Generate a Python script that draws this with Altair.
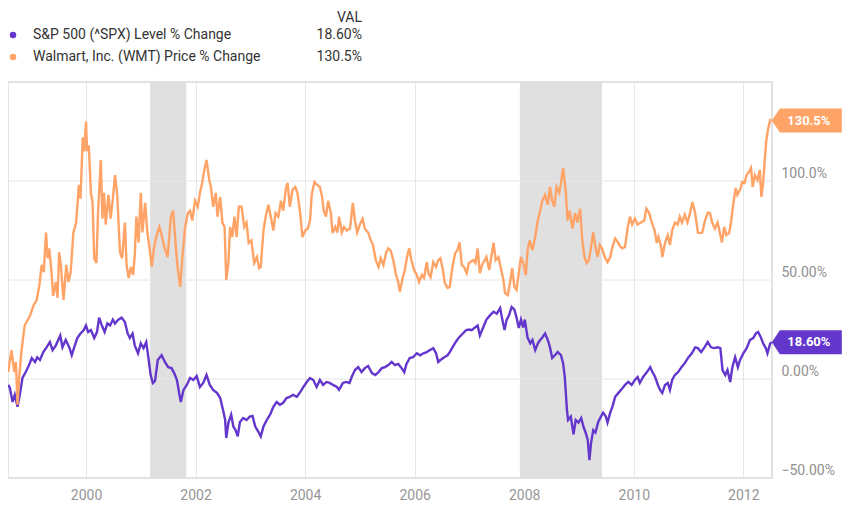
import altair as alt
import pandas as pd

# ---------------- data ----------------
wmt_year = [1998.58, 1998.64, 1998.69, 1998.72, 1998.75, 1998.78, 1998.82, 1998.88, 1998.98, 1999.04,
            1999.10, 1999.15, 1999.19, 1999.23, 1999.27, 1999.30, 1999.33, 1999.37, 1999.40, 1999.45,
            1999.48, 1999.51, 1999.54, 1999.59, 1999.64, 1999.68, 1999.72, 1999.77, 1999.82, 1999.87,
            1999.90, 1999.94, 1999.97, 2000.00, 2000.02, 2000.05, 2000.09, 2000.12, 2000.15, 2000.19,
            2000.22, 2000.27, 2000.30, 2000.33, 2000.36, 2000.41, 2000.45, 2000.49, 2000.53, 2000.57,
            2000.62, 2000.66, 2000.71, 2000.74, 2000.78, 2000.82, 2000.86, 2000.89, 2000.92, 2000.96,
            2001.00, 2001.03, 2001.08, 2001.12, 2001.16, 2001.20, 2001.24, 2001.29, 2001.34, 2001.38,
            2001.43, 2001.49, 2001.55, 2001.59, 2001.64, 2001.67, 2001.72, 2001.76, 2001.81, 2001.86,
            2001.90, 2001.94, 2001.99, 2002.04, 2002.08, 2002.12, 2002.16, 2002.20, 2002.25, 2002.28,
            2002.32, 2002.37, 2002.40, 2002.45, 2002.49, 2002.53, 2002.56, 2002.60, 2002.63, 2002.67,
            2002.71, 2002.75, 2002.79, 2002.84, 2002.89, 2002.93, 2002.97, 2003.02, 2003.07, 2003.12,
            2003.16, 2003.19, 2003.24, 2003.28, 2003.33, 2003.38, 2003.42, 2003.46, 2003.51, 2003.56,
            2003.60, 2003.65, 2003.68, 2003.72, 2003.77, 2003.82, 2003.86, 2003.91, 2003.95, 2004.00,
            2004.05, 2004.09, 2004.12, 2004.17, 2004.22, 2004.27, 2004.31, 2004.34, 2004.38, 2004.42,
            2004.47, 2004.50, 2004.55, 2004.59, 2004.62, 2004.67, 2004.71, 2004.76, 2004.82, 2004.87,
            2004.91, 2004.95, 2005.00, 2005.05, 2005.09, 2005.15, 2005.20, 2005.24, 2005.29, 2005.34,
            2005.38, 2005.43, 2005.48, 2005.52, 2005.56, 2005.61, 2005.66, 2005.70, 2005.73, 2005.78,
            2005.82, 2005.86, 2005.90, 2005.94, 2005.99, 2006.04, 2006.08, 2006.13, 2006.17, 2006.22,
            2006.25, 2006.29, 2006.34, 2006.39, 2006.43, 2006.47, 2006.51, 2006.55, 2006.60, 2006.64,
            2006.69, 2006.74, 2006.78, 2006.82, 2006.86, 2006.90, 2006.95, 2006.99, 2007.07, 2007.11,
            2007.15, 2007.19, 2007.23, 2007.28, 2007.31, 2007.36, 2007.39, 2007.44, 2007.48, 2007.53,
            2007.58, 2007.62, 2007.65, 2007.70, 2007.74, 2007.78, 2007.82, 2007.86, 2007.90, 2007.94,
            2007.98, 2008.03, 2008.06, 2008.10, 2008.15, 2008.20, 2008.24, 2008.29, 2008.33, 2008.38,
            2008.43, 2008.47, 2008.51, 2008.55, 2008.59, 2008.64, 2008.67, 2008.71, 2008.76, 2008.79,
            2008.83, 2008.88, 2008.93, 2008.97, 2009.02, 2009.06, 2009.10, 2009.14, 2009.18, 2009.22,
            2009.26, 2009.30, 2009.34, 2009.38, 2009.42, 2009.47, 2009.52, 2009.57, 2009.61, 2009.66,
            2009.71, 2009.75, 2009.79, 2009.84, 2009.89, 2009.93, 2009.97, 2010.02, 2010.07, 2010.13,
            2010.19, 2010.23, 2010.28, 2010.33, 2010.38, 2010.42, 2010.45, 2010.50, 2010.52, 2010.57,
            2010.62, 2010.66, 2010.70, 2010.75, 2010.80, 2010.84, 2010.88, 2010.93, 2010.98, 2011.02,
            2011.07, 2011.12, 2011.17, 2011.21, 2011.25, 2011.30, 2011.35, 2011.39, 2011.43, 2011.48,
            2011.53, 2011.57, 2011.61, 2011.65, 2011.69, 2011.74, 2011.77, 2011.81, 2011.86, 2011.89,
            2011.94, 2011.98, 2012.02, 2012.06, 2012.10, 2012.14, 2012.17, 2012.21, 2012.26, 2012.30,
            2012.33, 2012.36, 2012.40, 2012.42, 2012.45, 2012.49, 2012.52]
wmt_val = [3.5, 14.6, 3.5, 8.6, -13, 0.5, 13.6, 27, 32, 37,
           40, 47.5, 57.6, 54, 74, 61, 66, 54, 42, 49,
           41, 64, 57.6, 40, 57.6, 49, 54, 74, 79, 98,
           91, 122, 115, 130, 115, 118, 94, 89, 61, 58.6,
           84, 110.6, 81, 94, 78, 93, 81, 91, 103, 93,
           64, 61, 79, 57.6, 51, 56.6, 52.5, 62.6, 82, 69,
           94, 74, 89, 74, 66, 56.6, 66, 72.7, 76.8, 72.7,
           66.7, 61.6, 82, 85, 66.7, 56.6, 46.5, 61.6, 76.8, 83.8,
           85, 80, 90, 87, 94, 99, 105.6, 110.6, 100.5, 97,
           87, 94, 82, 92, 79, 76.8, 50, 58.6, 76.8, 71.7,
           82, 71.7, 87, 87, 76.8, 79, 68.7, 70, 58.6, 61.6,
           56, 56.6, 75, 82, 88, 81, 75, 83.8, 82, 90,
           85, 96.5, 99, 87, 95.5, 97, 94, 83.8, 71.7, 75,
           76, 80, 93, 99.5, 98, 97, 92, 85, 82, 90,
           83.8, 73.7, 76.8, 74, 82, 74, 76.8, 75, 76, 89,
           80, 74, 78, 81, 76, 74, 70, 67.7, 60, 56.6,
           61, 57.6, 64, 66, 65, 60, 52.5, 49, 44, 51,
           55, 61.6, 66, 60, 55, 52.5, 49, 52.5, 51, 59,
           53.5, 51.5, 59, 56.6, 60, 61, 56, 48.5, 46, 46.5,
           56.6, 63.6, 65, 69, 57.6, 56.6, 53.5, 58.6, 60, 58.6,
           66, 53.5, 57.6, 60, 61.6, 55, 60, 68.7, 60, 61.6,
           55, 50, 43.4, 42.4, 48.5, 56, 46.5, 45, 53.5, 61.6,
           58.6, 52.5, 65, 70, 65, 71.7, 79, 85, 90, 93,
           88, 97, 90, 87, 97, 94, 99, 106.6, 94, 80,
           85, 76, 83.8, 79, 86, 70, 61.6, 58.6, 60, 66.7,
           74, 66.7, 61.6, 67.7, 66, 61.6, 59, 61.6, 66.7, 71,
           69, 67, 66, 66.7, 76.8, 82, 78, 81, 78, 79,
           80, 86, 83.8, 79, 75, 68.7, 71.7, 66.7, 61.6, 68.7,
           72.7, 67.7, 75, 79, 78, 82, 79, 83, 79, 83,
           89.4, 83.8, 74, 73.7, 74, 80, 84, 83.8, 79, 76,
           79, 74, 69, 76.8, 72.7, 73.7, 78, 87, 96.5, 93,
           95.5, 99.5, 99, 103, 104.5, 106.6, 97, 103, 100.5, 105.6,
           92, 99, 114, 120.7, 126, 130.8, 130.5]

spx_year = [1998.58, 1998.61, 1998.66, 1998.70, 1998.75, 1998.80, 1998.84, 1998.90, 1998.96, 1999.01,
            1999.07, 1999.11, 1999.16, 1999.22, 1999.28, 1999.34, 1999.39, 1999.45, 1999.53, 1999.57,
            1999.63, 1999.70, 1999.74, 1999.78, 1999.84, 1999.90, 1999.96, 2000.00, 2000.04, 2000.09,
            2000.15, 2000.20, 2000.24, 2000.29, 2000.34, 2000.39, 2000.44, 2000.49, 2000.53, 2000.59,
            2000.65, 2000.71, 2000.76, 2000.80, 2000.85, 2000.89, 2000.95, 2001.00, 2001.05, 2001.10,
            2001.14, 2001.18, 2001.22, 2001.26, 2001.31, 2001.38, 2001.44, 2001.50, 2001.56, 2001.61,
            2001.66, 2001.70, 2001.73, 2001.78, 2001.84, 2001.90, 2001.96, 2002.02, 2002.08, 2002.14,
            2002.20, 2002.26, 2002.32, 2002.39, 2002.45, 2002.51, 2002.54, 2002.56, 2002.60, 2002.65,
            2002.69, 2002.73, 2002.77, 2002.81, 2002.87, 2002.93, 2002.99, 2003.04, 2003.09, 2003.15,
            2003.19, 2003.24, 2003.30, 2003.36, 2003.42, 2003.48, 2003.54, 2003.60, 2003.66, 2003.72,
            2003.78, 2003.85, 2003.91, 2003.97, 2004.03, 2004.09, 2004.15, 2004.21, 2004.27, 2004.33,
            2004.39, 2004.45, 2004.51, 2004.58, 2004.62, 2004.69, 2004.75, 2004.81, 2004.85, 2004.91,
            2004.97, 2005.03, 2005.09, 2005.15, 2005.22, 2005.28, 2005.34, 2005.40, 2005.46, 2005.52,
            2005.58, 2005.64, 2005.70, 2005.76, 2005.81, 2005.85, 2005.91, 2005.97, 2006.04, 2006.10,
            2006.16, 2006.22, 2006.28, 2006.34, 2006.39, 2006.43, 2006.47, 2006.54, 2006.60, 2006.64,
            2006.69, 2006.75, 2006.81, 2006.88, 2006.94, 2007.00, 2007.04, 2007.10, 2007.15, 2007.19,
            2007.25, 2007.31, 2007.37, 2007.44, 2007.50, 2007.56, 2007.60, 2007.64, 2007.68, 2007.72,
            2007.77, 2007.82, 2007.86, 2007.90, 2007.94, 2007.98, 2008.01, 2008.06, 2008.11, 2008.15,
            2008.20, 2008.25, 2008.29, 2008.33, 2008.38, 2008.43, 2008.47, 2008.51, 2008.56, 2008.61,
            2008.67, 2008.71, 2008.74, 2008.78, 2008.80, 2008.85, 2008.90, 2008.94, 2008.99, 2009.04,
            2009.08, 2009.12, 2009.16, 2009.19, 2009.22, 2009.26, 2009.30, 2009.35, 2009.40, 2009.44,
            2009.49, 2009.52, 2009.57, 2009.61, 2009.66, 2009.72, 2009.78, 2009.84, 2009.90, 2009.96,
            2010.02, 2010.07, 2010.11, 2010.17, 2010.24, 2010.30, 2010.34, 2010.39, 2010.44, 2010.48,
            2010.52, 2010.57, 2010.62, 2010.66, 2010.70, 2010.75, 2010.81, 2010.87, 2010.93, 2011.00,
            2011.06, 2011.12, 2011.17, 2011.23, 2011.29, 2011.35, 2011.41, 2011.47, 2011.53, 2011.58,
            2011.62, 2011.67, 2011.71, 2011.76, 2011.80, 2011.85, 2011.90, 2011.94, 2012.00, 2012.06,
            2012.12, 2012.18, 2012.23, 2012.27, 2012.32, 2012.36, 2012.41, 2012.44, 2012.49, 2012.52]
spx_val = [-3, -4.5, -11.6, -8, -14, -6.6, 0.5, 3.5, 7, 10.6,
           8.6, 11, 9.6, 13.6, 16, 18.7, 14.6, 17, 22, 16,
           19.7, 15.6, 12, 15.6, 20.7, 23, 24.7, 27, 23.7, 24.7,
           20.7, 23.7, 31, 27, 23.7, 28, 27, 30, 28, 30,
           31, 28.8, 23, 20.7, 23, 17, 13, 18, 15.6, 18.7,
           10.6, 2, -2, -1, 9.6, 12, 8.6, 6, 5.5, 3,
           -0.5, -7, -11.6, -5.5, -3, 0.5, -0.5, 1.5, -4, -2,
           2, -3, -5.5, -7, -9.6, -16.7, -20.7, -29.8, -22, -18,
           -24, -25.8, -29, -21.7, -19.7, -20.7, -19, -18.7, -24, -26.8,
           -29, -24, -20.7, -18, -14, -11.6, -13, -12, -9.6, -9,
           -8, -9, -6.6, -4, -1.5, 0.5, -0.5, -4, -0.5, -3,
           -1.5, -2, -3, -4, -5.5, -2, -1.5, -2, 1, 4.5,
           6, 3.5, 5.5, 6.6, 3, 2, 3.5, 5.5, 6, 7,
           8.6, 7, 7.6, 5.5, 3.5, 7.6, 10.6, 11, 13, 12,
           13, 13.6, 14.6, 15.6, 13, 8.6, 9.6, 11, 12, 13.6,
           16, 18.7, 21, 23, 24.7, 25, 24.7, 26, 27, 22,
           26, 30, 32, 34, 33, 35.8, 30, 24.7, 30, 32,
           36.4, 35, 31, 25.8, 30, 26, 30, 21, 18, 19.7,
           14.6, 18, 19.7, 21, 23, 19.7, 16, 10.6, 12, 13.6,
           12, 8, 1, -15.7, -20.7, -19, -28, -20.7, -22, -19.7,
           -24, -27, -30.8, -41, -32.3, -25.8, -27, -21.7, -19, -17,
           -19, -22, -17, -14, -9, -7, -5, -3, -1.5, -3,
           -0.5, 1, -2, 1, 3.5, 6, 3.5, 1, -3, -5.5,
           -7, -3, -2, -5.5, -0.5, 2, 3.5, 6, 8, 11,
           13, 16, 15.6, 13.6, 16, 18.7, 16, 15.6, 16, 15.6,
           4.5, 2, 4.5, -1.5, 6, 11, 6, 9.6, 13, 15.6,
           19.7, 20.7, 23, 23.7, 21, 18, 15.6, 13, 18, 18.6]

series_names = ["S&P 500 (^SPX) Level % Change", "Walmart, Inc. (WMT) Price % Change"]
series_last_label = ["18.60%", "130.5%"]
series_colors = ["#6336cc", "#ffa366"]

recession_start = [2001.17, 2007.92]
recession_end = [2001.83, 2009.42]

x_ticks = [2000, 2002, 2004, 2006, 2008, 2010, 2012]
y_ticks = [-50, 0, 50, 100]
y_grid = [0, 50, 100]
x_domain = [1998.576, 2012.523]
y_domain = [-50, 150]

# ---------------- tables ----------------
df = pd.concat([
    pd.DataFrame({"year": spx_year, "value": spx_val, "series": series_names[0]}),
    pd.DataFrame({"year": wmt_year, "value": wmt_val, "series": series_names[1]}),
], ignore_index=True)

rec_df = pd.DataFrame({"start": recession_start, "end": recession_end})
grid_df = pd.DataFrame({"value": y_grid})
tag_df = pd.DataFrame({
    "year": [spx_year[-1], wmt_year[-1]],
    "value": [spx_val[-1], wmt_val[-1]],
    "series": series_names,
    "label": series_last_label,
})

FONT = "Roboto"
W, H = 764, 396

xscale = alt.Scale(domain=x_domain, nice=False, zero=False)
yscale = alt.Scale(domain=y_domain, nice=False, zero=False)
cscale = alt.Scale(domain=series_names, range=series_colors)

x_axis = alt.Axis(values=x_ticks, format="d", title=None, grid=True, gridColor="#e6e6e6",
                  ticks=False, domain=False, labelPadding=10, labelFontSize=14,
                  labelColor="#969696", labelFont=FONT)
y_axis = alt.Axis(orient="right", values=y_ticks, title=None, grid=False, ticks=False,
                  domain=False, labelPadding=9, labelFontSize=14, labelColor="#909090",
                  labelFont=FONT, labelAlign="left", labelBaseline="bottom", labelOffset=-1,
                  labelExpr="datum.value === 100 ? '100.0%' : format(datum.value, '.2f') + '%'")

base_axes = alt.Chart(df).mark_line(opacity=0).encode(
    x=alt.X("year:Q", scale=xscale, axis=x_axis),
    y=alt.Y("value:Q", scale=yscale, axis=y_axis),
)

recessions = alt.Chart(rec_df).mark_rect(color="#e0e0e0").encode(
    x=alt.X("start:Q", scale=xscale),
    x2="end:Q",
)

hgrid = alt.Chart(grid_df).mark_rule(color="#e6e6e6", strokeWidth=1).encode(
    y=alt.Y("value:Q", scale=yscale)
)

lines = alt.Chart(df).mark_line(strokeWidth=2.4, clip=True).encode(
    x=alt.X("year:Q", scale=xscale),
    y=alt.Y("value:Q", scale=yscale),
    color=alt.Color("series:N", scale=cscale, legend=None),
)

TAG_PATH = "M0,0L8,-12L70,-12L70,12L8,12Z"
tags = alt.Chart(tag_df).mark_point(shape=TAG_PATH, size=4, filled=True, opacity=1,
                                    strokeWidth=0).encode(
    x=alt.X("year:Q", scale=xscale),
    y=alt.Y("value:Q", scale=yscale),
    color=alt.Color("series:N", scale=cscale, legend=None),
)
tag_text = alt.Chart(tag_df).mark_text(dx=37, align="center", baseline="middle", color="white",
                                       fontSize=13, fontWeight="bold", font=FONT).encode(
    x=alt.X("year:Q", scale=xscale),
    y=alt.Y("value:Q", scale=yscale),
    text="label:N",
)

# legend block above the plot
LEG_FS = 14
legend_layers = [
    alt.Chart(pd.DataFrame({"t": ["VAL"]})).mark_text(
        align="right", baseline="alphabetic", fontSize=LEG_FS, color="#333333", font=FONT
    ).encode(x=alt.value(354), y=alt.value(-60), text="t:N")
]
for i, (name, lab, col) in enumerate(zip(series_names, series_last_label, series_colors)):
    ypos = -47 + 22 * i
    row = pd.DataFrame({"name": [name], "lab": [lab]})
    legend_layers.append(alt.Chart(row).mark_circle(size=42, color=col, opacity=1).encode(
        x=alt.value(5), y=alt.value(ypos)))
    legend_layers.append(alt.Chart(row).mark_text(
        align="left", baseline="middle", fontSize=LEG_FS, color="#333333", font=FONT
    ).encode(x=alt.value(25), y=alt.value(ypos), text="name:N"))
    legend_layers.append(alt.Chart(row).mark_text(
        align="right", baseline="middle", fontSize=LEG_FS, color="#333333", font=FONT
    ).encode(x=alt.value(354), y=alt.value(ypos), text="lab:N"))

chart = alt.layer(base_axes, recessions, hgrid, lines, tags, tag_text, *legend_layers).properties(
    width=W, height=H,
    padding={"left": 0, "top": 74, "right": 82, "bottom": 32},
    autosize=alt.AutoSizeParams(type="none"),
).configure_view(stroke="#d9d9d9", strokeWidth=1.5)

chart.save("out.html", embed_options={"renderer": "svg", "actions": False})
